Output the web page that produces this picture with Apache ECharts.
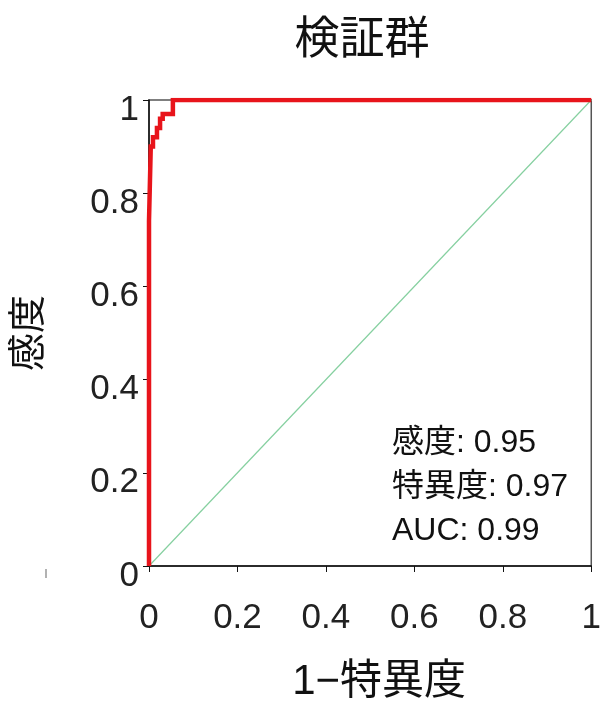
<!DOCTYPE html>
<html>
<head>
<meta charset="utf-8">
<script src="https://cdn.jsdelivr.net/npm/echarts@6/dist/echarts.min.js"></script>
<style>
  * { margin: 0; padding: 0; }
  #chart-container { width: 604px; height: 708px; background: #fff; }
</style>
</head>
<body>
<div id="chart-container"></div>
<script>
  // ROC curve steps: 1-specificity (fpr) and sensitivity (tpr)
  var fpr = [0, 0, 0.004, 0.004, 0.009, 0.009, 0.018, 0.018, 0.025, 0.025, 0.031, 0.031, 0.054, 0.054, 1]
  var tpr = [0, 0.74, 0.74, 0.90, 0.90, 0.92, 0.92, 0.94, 0.94, 0.96, 0.96, 0.97, 0.97, 1, 1]
  var refLine = [[0, 0], [1, 1]]
  var statLines = ['感度: 0.95', '特異度: 0.97', 'AUC: 0.99']

  var font = '"Liberation Sans", "Noto Sans CJK JP", sans-serif'
  var chartDom = document.getElementById('chart-container')
  var myChart = echarts.init(chartDom, null, { renderer: 'canvas' })

  var rocData = fpr.map(function (x, i) { return [x, tpr[i]] })

  var option = {
    animation: false,
    title: {
      text: '検証群',
      left: 357,
      textAlign: 'center',
      top: 14,
      textStyle: { fontFamily: font, fontSize: 45, fontWeight: 'normal', color: '#111' }
    },
    grid: {
      left: 149, right: 8, top: 100, bottom: 136,
      show: true, borderColor: '#555', borderWidth: 1.5
    },
    xAxis: {
      type: 'value', min: 0, max: 1, interval: 0.2,
      name: '1−特異度', nameLocation: 'middle', nameGap: 95,
      nameTextStyle: { fontFamily: font, fontSize: 42, color: '#111', padding: [0, 0, 0, 18] },
      axisLine: { lineStyle: { color: '#111', width: 1.5 } },
      axisTick: { show: true, length: 6, lineStyle: { color: '#111' } },
      axisLabel: { fontFamily: font, fontSize: 35, color: '#222', margin: 35 },
      splitLine: { show: false }
    },
    yAxis: {
      type: 'value', min: 0, max: 1, interval: 0.2,
      name: '感度', nameLocation: 'middle', nameGap: 100, nameRotate: 90,
      nameTextStyle: { fontFamily: font, fontSize: 38, color: '#111' },
      axisLine: { show: true, lineStyle: { color: '#111', width: 1.5 } },
      axisTick: { show: true, length: 6, lineStyle: { color: '#111' } },
      axisLabel: {
        margin: 10,
        formatter: '{v|{value}}',
        rich: { v: { fontFamily: font, fontSize: 35, color: '#222', padding: [20, 0, 0, 0] } }
      },
      splitLine: { show: false }
    },
    graphic: [
      {
        type: 'text',
        left: 392, top: 421,
        style: {
          text: statLines.join('\n'),
          fontFamily: font, fontSize: 32, lineHeight: 44, fill: '#111'
        }
      },
      {
        type: 'line',
        shape: { x1: 46, y1: 569, x2: 46, y2: 578 },
        style: { stroke: '#999', lineWidth: 1.5 }
      }
    ],
    series: [
      {
        type: 'line', data: refLine, symbol: 'none',
        lineStyle: { color: '#86d0a0', width: 1.2 }, z: 2
      },
      {
        type: 'line', data: rocData, symbol: 'none',
        lineStyle: { color: '#e8141b', width: 4.5, join: 'miter', cap: 'butt' }, z: 3
      }
    ]
  }
  myChart.setOption(option)
  window.addEventListener('resize', myChart.resize)
</script>
</body>
</html>
